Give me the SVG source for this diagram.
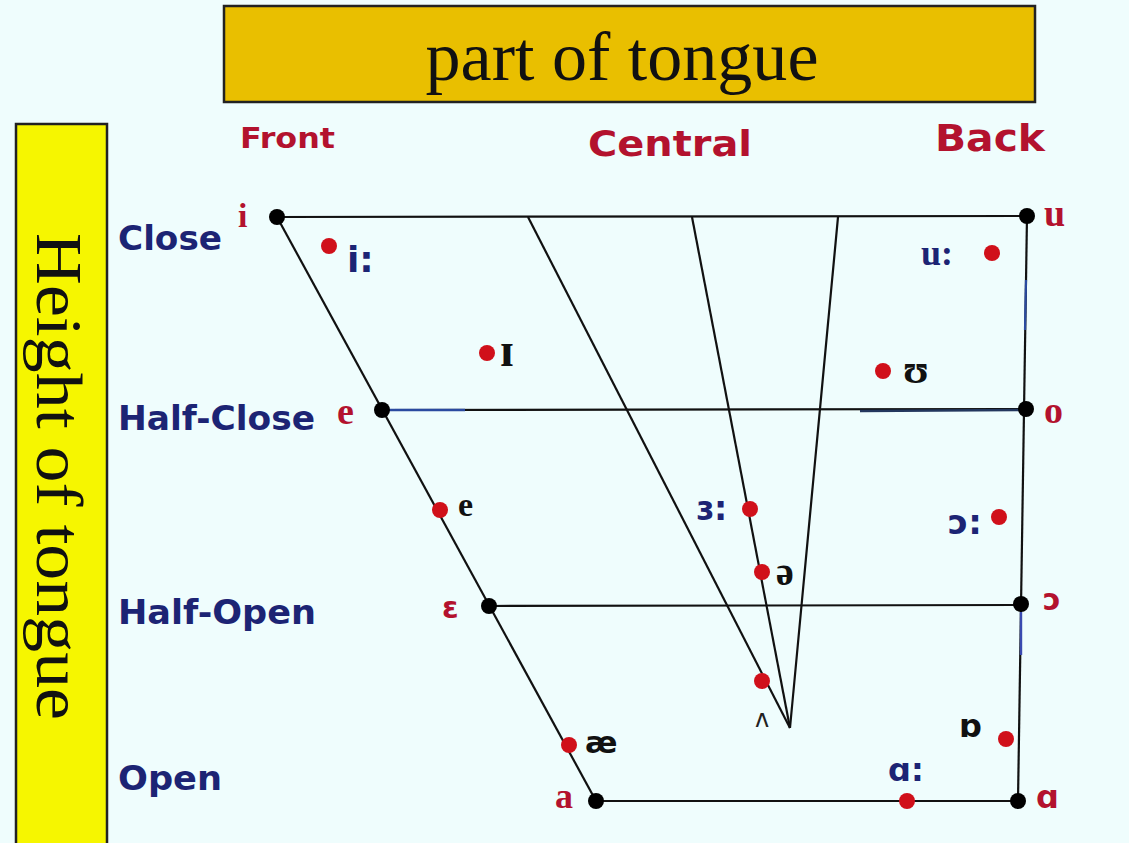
<svg xmlns="http://www.w3.org/2000/svg" width="1129" height="843" viewBox="0 0 1129 843">
<style>
.lbl{font-family:"DejaVu Sans","Liberation Sans",sans-serif;font-weight:bold;fill:#1c2474}
.hdr{font-family:"DejaVu Sans","Liberation Sans",sans-serif;font-weight:bold;fill:#b3122e}
.pt{font-family:"Liberation Serif","DejaVu Serif",serif;font-weight:bold;fill:#b3122e}
.sym{font-family:"Liberation Serif","DejaVu Serif",serif;font-weight:bold;fill:#111}
.bsym{font-family:"DejaVu Sans","Liberation Sans",sans-serif;font-weight:bold;fill:#1c2474}
.ln{stroke:#111;stroke-width:2.2;fill:none}
.bk{fill:#000}
.rd{fill:#d0101a}
</style>
<rect width="1129" height="843" fill="#effdfd"/>
<g id="banner">
<rect x="224" y="6" width="811" height="96" fill="#e9bf00" stroke="#222" stroke-width="2.5"/>
<text x="622" y="80" text-anchor="middle" font-family="Liberation Serif,serif" font-size="70" textLength="393" lengthAdjust="spacingAndGlyphs" fill="#111">part of tongue</text>
</g>
<g id="height-box">
<rect x="16" y="124" width="91" height="730" fill="#f6f600" stroke="#222" stroke-width="2.5"/>
<text transform="translate(37,233) rotate(90)" font-family="Liberation Serif,serif" font-size="66" textLength="487" lengthAdjust="spacingAndGlyphs" fill="#111">Height of tongue</text>
</g>
<g id="column-labels">
<text class="hdr" x="240" y="148" font-size="29" textLength="95" lengthAdjust="spacingAndGlyphs">Front</text>
<text class="hdr" x="588" y="156" font-size="36" textLength="164" lengthAdjust="spacingAndGlyphs">Central</text>
<text class="hdr" x="935" y="151" font-size="38" textLength="110" lengthAdjust="spacingAndGlyphs">Back</text>
</g>
<g id="row-labels">
<text class="lbl" x="118" y="250" font-size="33" textLength="104" lengthAdjust="spacingAndGlyphs">Close</text>
<text class="lbl" x="118" y="430" font-size="33" textLength="197" lengthAdjust="spacingAndGlyphs">Half-Close</text>
<text class="lbl" x="118" y="624" font-size="33" textLength="198" lengthAdjust="spacingAndGlyphs">Half-Open</text>
<text class="lbl" x="118" y="790" font-size="33" textLength="104" lengthAdjust="spacingAndGlyphs">Open</text>
</g>
<g id="connectors">
<line class="ln" x1="277" y1="217" x2="1027" y2="216"/>
<line class="ln" x1="277" y1="217" x2="596" y2="801"/>
<line class="ln" x1="1027" y1="216" x2="1018" y2="801"/>
<line class="ln" x1="382" y1="410" x2="1026" y2="409"/>
<line x1="382" y1="410" x2="465" y2="410" stroke="#2a4aa0" stroke-width="2.5"/>
<line x1="860" y1="411" x2="1026" y2="410" stroke="#23375e" stroke-width="2.5"/>
<line class="ln" x1="489" y1="606" x2="1021" y2="605"/>
<line class="ln" x1="596" y1="801" x2="1018" y2="801"/>
<line x1="1026" y1="280" x2="1025" y2="330" stroke="#2a4aa0" stroke-width="2.2"/>
<line x1="1021" y1="612" x2="1021" y2="655" stroke="#3a4ab0" stroke-width="2.4"/>
<line class="ln" x1="528" y1="217" x2="790" y2="728"/>
<line class="ln" x1="692" y1="217" x2="790" y2="728"/>
<line class="ln" x1="838" y1="217" x2="790" y2="728"/>
</g>
<g id="cardinal-points">
<circle class="bk" cx="277" cy="217" r="8"/>
<circle class="bk" cx="1027" cy="216" r="8"/>
<circle class="bk" cx="382" cy="410" r="8"/>
<circle class="bk" cx="1026" cy="409" r="8"/>
<circle class="bk" cx="489" cy="606" r="8"/>
<circle class="bk" cx="1021" cy="604" r="8"/>
<circle class="bk" cx="596" cy="801" r="8"/>
<circle class="bk" cx="1018" cy="801" r="8"/>
<text class="pt" x="238" y="227" font-size="34">i</text>
<text class="pt" x="1044" y="226" font-size="38">u</text>
<text class="pt" x="337" y="424" font-size="38">e</text>
<text class="pt" x="1044" y="423" font-size="38">o</text>
<text class="hdr" x="442" y="618" font-size="30">ε</text>
<text class="hdr" x="1043" y="610" font-size="30">ɔ</text>
<text class="pt" x="555" y="808" font-size="36">a</text>
<text class="hdr" x="1036" y="808" font-size="32">ɑ</text>
</g>
<g id="vowels">
<circle class="rd" cx="329" cy="246" r="8"/>
<text class="bsym" x="347" y="272" font-size="36">i:</text>
<circle class="rd" cx="487" cy="353" r="8"/>
<text class="sym" x="500" y="366" font-size="48">ɪ</text>
<circle class="rd" cx="440" cy="510" r="8"/>
<text class="sym" x="458" y="516" font-size="34">e</text>
<circle class="rd" cx="569" cy="745" r="8"/>
<text class="bsym" x="585" y="753" font-size="31" style="fill:#111">æ</text>
<circle class="rd" cx="750" cy="509" r="8"/>
<text class="bsym" x="696" y="520" font-size="33">ɜ:</text>
<circle class="rd" cx="762" cy="572" r="8"/>
<text class="sym" x="776" y="585" font-size="40">ə</text>
<circle class="rd" cx="762" cy="681" r="8"/>
<text x="755" y="727" font-family="DejaVu Sans,sans-serif" font-size="24" fill="#222">ʌ</text>
<circle class="rd" cx="992" cy="253" r="8"/>
<text class="bsym" x="921" y="265" font-size="36" style="font-family:'Liberation Serif',serif">u:</text>
<circle class="rd" cx="883" cy="371" r="8"/>
<text class="sym" x="903" y="383" font-size="42">ʊ</text>
<circle class="rd" cx="999" cy="517" r="8"/>
<text class="bsym" x="948" y="534" font-size="34">ɔ:</text>
<circle class="rd" cx="1006" cy="739" r="8"/>
<text class="sym" x="959" y="737" font-size="32" style="font-family:'DejaVu Sans',sans-serif">ɒ</text>
<circle class="rd" cx="907" cy="801" r="8"/>
<text class="bsym" x="888" y="781" font-size="32">ɑ:</text>
</g>
</svg>
